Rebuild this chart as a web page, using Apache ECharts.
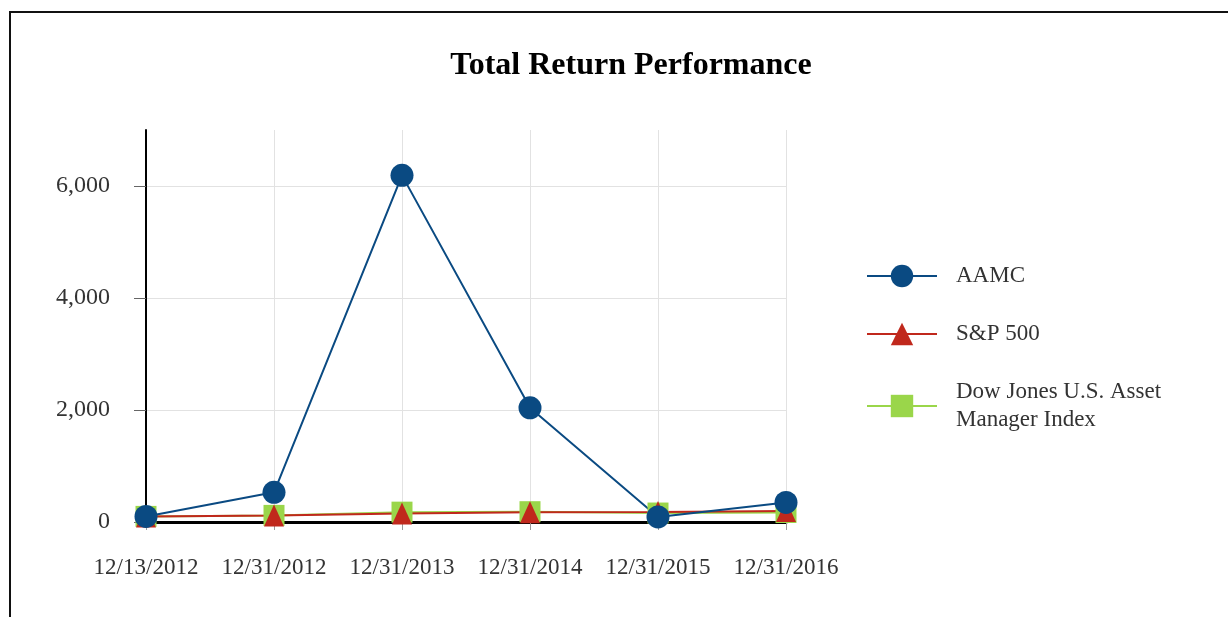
<!DOCTYPE html>
<html>
<head>
<meta charset="utf-8">
<script src="https://cdn.jsdelivr.net/npm/echarts@6/dist/echarts.min.js"></script>
<style>
  html, body { margin: 0; padding: 0; background: #fff; }
  #main { position: absolute; left: 0; top: 0; width: 1228px; height: 617px; }
  .frame { position: absolute; left: 9px; top: 11px; width: 1240px; height: 640px;
           border-top: 2px solid #111; border-left: 2px solid #111; pointer-events: none; }
</style>
</head>
<body>
<div id="main"></div>
<div class="frame"></div>
<script>
// 数据
var categories = ['12/13/2012', '12/31/2012', '12/31/2013', '12/31/2014', '12/31/2015', '12/31/2016'];
var aamc = [100, 530, 6190, 2040, 90, 350];
var sp500 = [100, 116, 154, 175, 177, 198];
var dowJones = [100, 118, 176, 184, 160, 170];
var yTicks = [0, 2000, 4000, 6000];
var seriesNames = ['AAMC', 'S&P 500', 'Dow Jones U.S. Asset\nManager Index'];

var font = 'Liberation Serif';
var myChart = echarts.init(document.getElementById('main'));

var option = {
  animation: false,
  title: {
    text: 'Total Return Performance',
    left: 626,
    textAlign: 'center',
    top: 45,
    textStyle: { fontFamily: font, fontSize: 32, fontWeight: 'bold', color: '#000' }
  },
  legend: {
    orient: 'vertical',
    left: 861,
    top: 257,
    itemWidth: 70,
    itemHeight: 28,
    itemGap: 30,
    data: seriesNames,
    textStyle: { fontFamily: font, fontSize: 23, color: '#333', lineHeight: 28, padding: [0, 0, 0, 14] }
  },
  grid: { left: 146, right: 442, top: 130, bottom: 95 },
  xAxis: {
    type: 'category',
    data: categories,
    boundaryGap: false,
    axisLine: { lineStyle: { color: '#000', width: 3 } },
    axisTick: { show: true, length: 8, lineStyle: { color: '#999' } },
    axisLabel: { interval: 0, margin: 34, fontFamily: font, fontSize: 23, color: '#333' },
    splitLine: { show: true, lineStyle: { color: '#e2e2e2', width: 1 } }
  },
  yAxis: {
    type: 'value',
    min: 0,
    max: 7000,
    interval: 2000,
    axisLine: { show: true, lineStyle: { color: '#000', width: 2 } },
    axisTick: { show: true, length: 12, customValues: yTicks, lineStyle: { color: '#666' } },
    axisLabel: {
      margin: 36, fontFamily: font, fontSize: 24, color: '#333',
      customValues: yTicks,
      formatter: function (v) { return v.toLocaleString('en-US'); }
    },
    splitLine: {
      show: true,
      lineStyle: { color: ['#e2e2e2', '#e2e2e2', '#e2e2e2', '#e2e2e2', 'rgba(0,0,0,0)'], width: 1 }
    }
  },
  series: [
    {
      name: seriesNames[2],
      type: 'line',
      data: dowJones,
      symbol: 'rect',
      symbolSize: 21,
      itemStyle: { color: '#9ad64a' },
      lineStyle: { color: '#9ad64a', width: 2 }
    },
    {
      name: seriesNames[1],
      type: 'line',
      data: sp500,
      symbol: 'triangle',
      symbolSize: [20, 22],
      itemStyle: { color: '#c0281c' },
      lineStyle: { color: '#c0281c', width: 2 }
    },
    {
      name: seriesNames[0],
      type: 'line',
      data: aamc,
      symbol: 'circle',
      symbolSize: 23,
      itemStyle: { color: '#0a4a82' },
      lineStyle: { color: '#0a4a82', width: 2 }
    }
  ]
};
myChart.setOption(option);
</script>
</body>
</html>
